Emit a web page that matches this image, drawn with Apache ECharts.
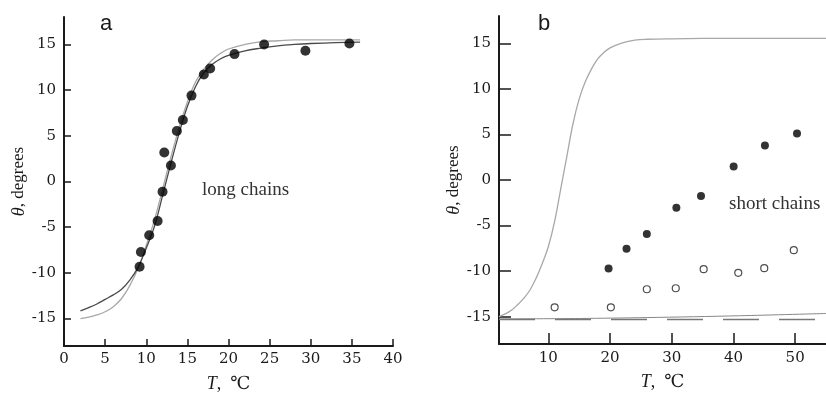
<!DOCTYPE html>
<html><head><meta charset="utf-8">
<script src="https://cdn.jsdelivr.net/npm/echarts@6/dist/echarts.min.js"></script>
<style>html,body{margin:0;padding:0;background:#fff}#c{width:826px;height:401px}</style>
</head><body><div id="c"></div>
<script>
// ---- panel a: long chains ----
const longT = [9.19, 9.35, 10.36, 11.38, 11.98, 12.19, 13.0, 13.72, 14.45, 15.5, 17.0, 17.77, 20.73, 24.33, 29.35, 34.7];
const longTheta = [-9.33, -7.72, -5.89, -4.32, -1.13, 3.18, 1.76, 5.53, 6.73, 9.4, 11.7, 12.37, 13.94, 15.0, 14.3, 15.1];
const fitT = [2, 3, 4, 5, 6, 7, 8, 9, 10, 11, 12, 13, 14, 15, 16, 17, 18, 19, 20, 22, 24, 26, 28, 30, 33, 36];
const fitDark = [-14.15, -13.8, -13.4, -12.9, -12.4, -11.8, -10.8, -9.4, -7.3, -4.9, -1.5, 2.0, 5.3, 8.2, 10.4, 11.9, 12.8, 13.4, 13.8, 14.3, 14.6, 14.85, 15.0, 15.1, 15.2, 15.25];
const fitLight = [-15.0, -14.85, -14.6, -14.25, -13.7, -12.8, -11.4, -9.5, -7.0, -4.2, -0.8, 2.7, 5.9, 8.7, 10.9, 12.3, 13.3, 14.0, 14.5, 15.0, 15.3, 15.4, 15.5, 15.5, 15.5, 15.5];
// ---- panel b: short chains ----
const shortFilledT = [19.76, 22.67, 25.96, 30.75, 34.74, 40.03, 45.1, 50.3];
const shortFilledTheta = [-9.72, -7.55, -5.94, -3.04, -1.76, 1.47, 3.78, 5.1];
const shortOpenT = [11.02, 20.13, 25.96, 30.65, 35.17, 40.78, 44.99, 49.78];
const shortOpenTheta = [-13.97, -13.97, -11.99, -11.88, -9.79, -10.19, -9.68, -7.7];
const refT = [2, 3, 4, 5, 6, 7, 8, 9, 10, 11, 12, 13, 14, 15, 16, 17, 18, 19, 20, 22, 24, 26, 30, 40, 55];
const refTheta = [-15, -14.7, -14.3, -13.7, -13.0, -12.1, -10.8, -9.2, -7.3, -4.6, -1.0, 2.6, 6.2, 8.9, 10.8, 12.2, 13.3, 14.0, 14.5, 15.05, 15.35, 15.45, 15.5, 15.55, 15.55];
const baseT = [2, 15, 26, 41, 55];
const baseTheta = [-15.25, -15.2, -15.1, -14.9, -14.65];
const dashT = [2, 55];
const dashTheta = [-15.3, -15.3];
// ---- ticks ----
const thetaTicks = [-15, -10, -5, 0, 5, 10, 15];
const tTicksB = [10, 20, 30, 40, 50];

const zip = (a, b) => a.map((v, i) => [v, b[i]]);
const serif = '"Liberation Serif", "DejaVu Serif", serif';
const tickFont = '"DejaVu Serif", serif';
const ink = '#1a1a1a';

function yAxis(gi, tickLen) {
  return {
    type: 'value', gridIndex: gi, min: -18, max: 18,
    axisLine: { show: true, onZero: false, lineStyle: { color: ink, width: 2 } },
    axisTick: { show: true, inside: true, length: tickLen, customValues: thetaTicks, lineStyle: { color: ink, width: 1.5 } },
    axisLabel: { customValues: thetaTicks, fontFamily: tickFont, fontSize: 15, color: ink, margin: 8 },
    splitLine: { show: false },
    name: '{i|θ}, degrees', nameLocation: 'middle', nameRotate: 90, nameGap: 35,
    nameTextStyle: { fontFamily: serif, fontSize: 17, color: ink, rich: { i: { fontStyle: 'italic', fontFamily: serif, fontSize: 18, color: ink } } }
  };
}
function xName() {
  return {
    name: '{i|T},  ℃', nameLocation: 'middle', nameGap: 29,
    nameTextStyle: { fontFamily: serif, fontSize: 18, color: ink, rich: { i: { fontStyle: 'italic', fontFamily: serif, fontSize: 18, color: ink } } }
  };
}

const chart = echarts.init(document.getElementById('c'), null, { renderer: 'canvas' });
chart.setOption({
  animation: false,
  backgroundColor: '#fff',
  grid: [
    { left: 64, top: 17, width: 329, height: 329 },
    { left: 499, top: 16, right: 0, height: 328 }
  ],
  xAxis: [
    Object.assign({
      type: 'value', gridIndex: 0, min: 0, max: 40, interval: 5,
      axisLine: { show: true, onZero: false, lineStyle: { color: ink, width: 2 } },
      axisTick: { show: true, inside: true, length: 7, lineStyle: { color: ink, width: 1.5 } },
      axisLabel: { fontFamily: tickFont, fontSize: 15, color: ink, margin: 6 },
      splitLine: { show: false }
    }, xName()),
    Object.assign({
      type: 'value', gridIndex: 1, min: 2, max: 55,
      axisLine: { show: true, onZero: false, lineStyle: { color: ink, width: 2 } },
      axisTick: { show: true, inside: true, length: 11, customValues: tTicksB, lineStyle: { color: ink, width: 1.5 } },
      axisLabel: { customValues: tTicksB, fontFamily: tickFont, fontSize: 15, color: ink, margin: 7 },
      splitLine: { show: false }
    }, xName())
  ],
  yAxis: [yAxis(0, 7), yAxis(1, 12)],
  series: [
    { type: 'line', xAxisIndex: 0, yAxisIndex: 0, data: zip(fitT, fitLight), smooth: 0.4, showSymbol: false, lineStyle: { color: '#a8a8a8', width: 1.3 }, z: 2 },
    { type: 'line', xAxisIndex: 0, yAxisIndex: 0, data: zip(fitT, fitDark), smooth: 0.4, showSymbol: false, lineStyle: { color: '#4a4a4a', width: 1.3 }, z: 3 },
    { type: 'scatter', xAxisIndex: 0, yAxisIndex: 0, data: zip(longT, longTheta), symbol: 'circle', symbolSize: 10, itemStyle: { color: '#000' }, z: 5 },
    { type: 'line', xAxisIndex: 1, yAxisIndex: 1, data: zip(refT, refTheta), smooth: 0.4, showSymbol: false, lineStyle: { color: '#a8a8a8', width: 1.3 }, z: 2 },
    { type: 'line', xAxisIndex: 1, yAxisIndex: 1, data: zip(baseT, baseTheta), smooth: 0.3, showSymbol: false, lineStyle: { color: '#888', width: 1 }, z: 2 },
    { type: 'line', xAxisIndex: 1, yAxisIndex: 1, data: zip(dashT, dashTheta), showSymbol: false, lineStyle: { color: '#777', width: 1.5, type: [36, 20] }, z: 2 },
    { type: 'scatter', xAxisIndex: 1, yAxisIndex: 1, data: zip(shortFilledT, shortFilledTheta), symbol: 'circle', symbolSize: 8, itemStyle: { color: '#000' }, z: 5 },
    { type: 'scatter', xAxisIndex: 1, yAxisIndex: 1, data: zip(shortOpenT, shortOpenTheta), symbol: 'circle', symbolSize: 7, itemStyle: { color: '#fff', borderColor: '#222', borderWidth: 1.2 }, z: 5 }
  ],
  graphic: [
    { type: 'text', left: 100, top: 13, style: { text: 'a', fontFamily: '"Liberation Sans", Arial, sans-serif', fontSize: 22, fill: ink } },
    { type: 'text', left: 538, top: 13, style: { text: 'b', fontFamily: '"Liberation Sans", Arial, sans-serif', fontSize: 22, fill: ink } },
    { type: 'text', left: 202, top: 181, style: { text: 'long chains', fontFamily: serif, fontSize: 19, fill: '#333' } },
    { type: 'text', left: 729, top: 195, style: { text: 'short chains', fontFamily: serif, fontSize: 19, fill: '#333' } }
  ]
});
</script></body></html>
